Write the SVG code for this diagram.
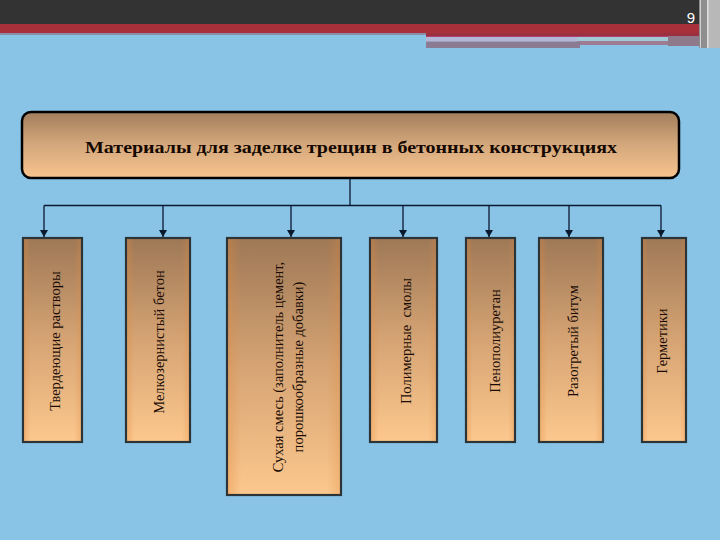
<svg xmlns="http://www.w3.org/2000/svg" width="720" height="540" viewBox="0 0 720 540">
<defs>
<linearGradient id="gTitle" x1="0" y1="0" x2="0" y2="1">
<stop offset="0" stop-color="#a27e5c"/>
<stop offset="0.5" stop-color="#d4a87c"/>
<stop offset="1" stop-color="#f8c48e"/>
</linearGradient>
<linearGradient id="gBox" x1="0" y1="0" x2="0" y2="1">
<stop offset="0" stop-color="#9e7856"/>
<stop offset="0.5" stop-color="#d6a474"/>
<stop offset="1" stop-color="#fcc88e"/>
</linearGradient>
<linearGradient id="gEdge" x1="0" y1="0" x2="1" y2="0">
<stop offset="0" stop-color="#e08a40" stop-opacity="0.35"/>
<stop offset="0.12" stop-color="#e08a40" stop-opacity="0"/>
<stop offset="0.88" stop-color="#e08a40" stop-opacity="0"/>
<stop offset="1" stop-color="#e08a40" stop-opacity="0.3"/>
</linearGradient>
<marker id="arr" markerWidth="8" markerHeight="8" refX="7" refY="4" orient="auto" markerUnits="userSpaceOnUse">
<path d="M0,0 L7,4 L0,8 Z" fill="#0a1a30"/>
</marker>
<style>
.box{fill:url(#gBox);stroke:#2c3438;stroke-width:2.2}
.edge{fill:url(#gEdge);stroke:none}
.lbl{font-family:"Liberation Serif","Times New Roman",serif;font-size:14.5px;fill:#1a0c04;text-anchor:middle;dominant-baseline:central}
.conn{stroke:#0a1a30;stroke-width:1.3;fill:none}
</style>
</defs>
<rect x="0" y="0" width="720" height="540" fill="#89c4e7"/>
<g id="header">
<rect x="0" y="0" width="720" height="24" fill="#333333"/>
<rect x="0" y="24" width="720" height="9" fill="#a8303a"/>
<rect x="0" y="33" width="426" height="2" fill="#8a8ea8"/>
<rect x="426" y="33" width="274" height="3" fill="#9a3040"/>
<rect x="426" y="36" width="274" height="1" fill="#b04070"/>
<rect x="426" y="37" width="151" height="4" fill="#b4b6d8"/>
<rect x="577" y="37" width="91" height="4" fill="#9fcad6"/>
<rect x="668" y="36" width="32" height="10" fill="#8e7a8a"/>
<rect x="577" y="41" width="91" height="4" fill="#a07c94"/>
<rect x="426" y="41" width="151" height="1" fill="#a0a0b8"/>
<rect x="426" y="42" width="154" height="6" fill="#8a7a92"/>
<rect x="699" y="0" width="21" height="48" fill="#b8b8b8"/>
<rect x="699" y="0" width="8" height="48" fill="#8e8e8e"/>
<rect x="700" y="0" width="1" height="48" fill="#d0d0d0"/>
<rect x="707" y="0" width="1.5" height="48" fill="#e0e0e0"/>
<text x="691" y="23" font-family="Liberation Sans, Arial, sans-serif" font-size="15" fill="#ffffff" text-anchor="middle">9</text>
</g>
<g id="title">
<rect x="22" y="112" width="657" height="66" rx="9" ry="9" fill="url(#gTitle)" stroke="#000000" stroke-width="2.5"/>
<text x="351" y="153" font-family="Liberation Serif, Times New Roman, serif" font-size="16.5" font-weight="bold" fill="#140800" text-anchor="middle" textLength="532" lengthAdjust="spacingAndGlyphs">Материалы для заделке трещин в бетонных конструкциях</text>
</g>
<g id="connectors">
<line class="conn" x1="350" y1="178" x2="350" y2="205.5"/>
<line class="conn" x1="44" y1="205.5" x2="661" y2="205.5"/>
<line class="conn" x1="44" y1="205.5" x2="44" y2="237" marker-end="url(#arr)"/>
<line class="conn" x1="163" y1="205.5" x2="163" y2="237" marker-end="url(#arr)"/>
<line class="conn" x1="291" y1="205.5" x2="291" y2="237" marker-end="url(#arr)"/>
<line class="conn" x1="403" y1="205.5" x2="403" y2="237" marker-end="url(#arr)"/>
<line class="conn" x1="489" y1="205.5" x2="489" y2="237" marker-end="url(#arr)"/>
<line class="conn" x1="569" y1="205.5" x2="569" y2="237" marker-end="url(#arr)"/>
<line class="conn" x1="661" y1="205.5" x2="661" y2="237" marker-end="url(#arr)"/>
</g>
<g id="n1">
<rect class="box" x="23" y="238" width="59" height="204"/>
<rect class="edge" x="24" y="239" width="57" height="202"/>
<text class="lbl" transform="translate(55,341) rotate(-90)">Твердеющие растворы</text>
</g>
<g id="n2">
<rect class="box" x="126" y="238" width="64" height="204"/>
<rect class="edge" x="127" y="239" width="62" height="202"/>
<text class="lbl" transform="translate(159,342) rotate(-90)">Мелкозернистый бетон</text>
</g>
<g id="n3">
<rect class="box" x="227" y="238" width="114" height="257"/>
<rect class="edge" x="228" y="239" width="112" height="255"/>
<text class="lbl" transform="translate(277.5,367) rotate(-90)">Сухая смесь (заполнитель цемент,</text>
<text class="lbl" transform="translate(297.5,367) rotate(-90)">порошкообразные добавки)</text>
</g>
<g id="n4">
<rect class="box" x="370" y="238" width="67" height="204"/>
<rect class="edge" x="371" y="239" width="65" height="202"/>
<text class="lbl" transform="translate(406,341) rotate(-90)" xml:space="preserve">Полимерные  смолы</text>
</g>
<g id="n5">
<rect class="box" x="466" y="238" width="49" height="204"/>
<rect class="edge" x="467" y="239" width="47" height="202"/>
<text class="lbl" transform="translate(495,341) rotate(-90)">Пенополиуретан</text>
</g>
<g id="n6">
<rect class="box" x="539" y="238" width="64" height="204"/>
<rect class="edge" x="540" y="239" width="62" height="202"/>
<text class="lbl" transform="translate(572.5,341) rotate(-90)">Разогретый битум</text>
</g>
<g id="n7">
<rect class="box" x="642" y="238" width="44" height="204"/>
<rect class="edge" x="643" y="239" width="42" height="202"/>
<text class="lbl" transform="translate(662,341) rotate(-90)">Герметики</text>
</g>
</svg>
